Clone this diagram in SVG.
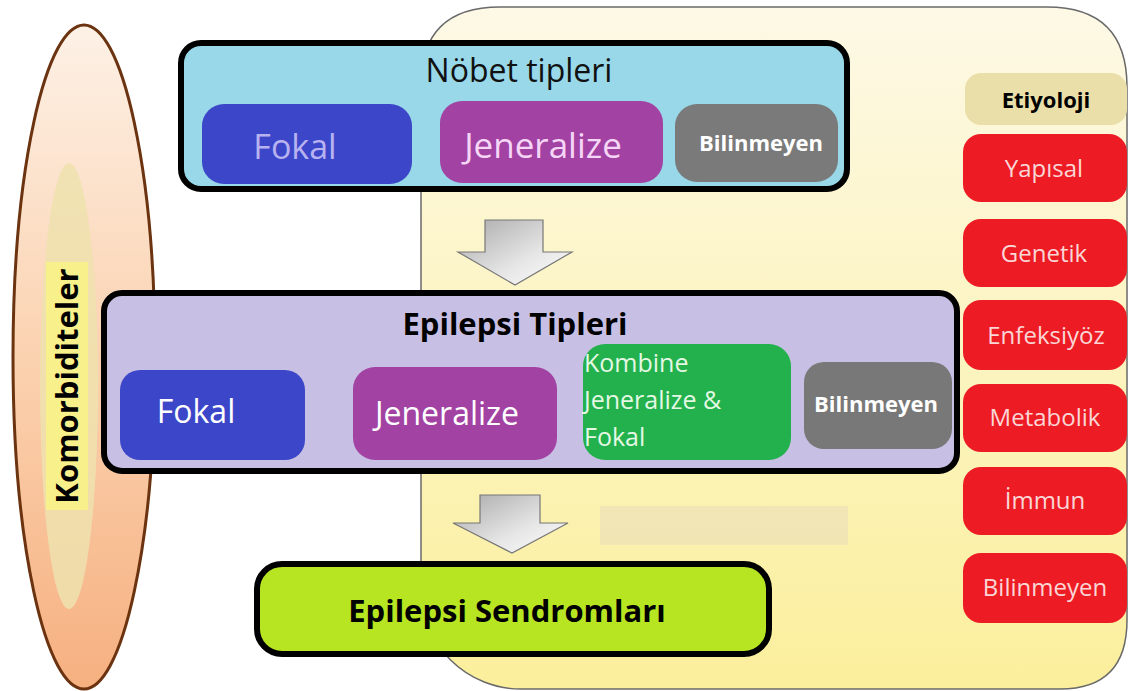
<svg xmlns="http://www.w3.org/2000/svg" width="1134" height="691" viewBox="0 0 1134 691">
<defs>
<linearGradient id="panelG" x1="0" y1="0" x2="0" y2="1">
<stop offset="0" stop-color="#fdf9e6"/><stop offset="1" stop-color="#fbef9c"/>
</linearGradient>
<linearGradient id="ellG" x1="0" y1="0" x2="0" y2="1">
<stop offset="0" stop-color="#fdf1e6"/><stop offset="0.5" stop-color="#fbd2b0"/><stop offset="1" stop-color="#f6b080"/>
</linearGradient>
<linearGradient id="arrG" x1="0" y1="0" x2="1" y2="1">
<stop offset="0" stop-color="#a8a8a8"/><stop offset="0.6" stop-color="#e6e6e6"/><stop offset="1" stop-color="#ffffff"/>
</linearGradient>
<style>
.t{font-family:"Open Sans","Noto Sans","Liberation Sans",sans-serif;text-anchor:middle}
.b{font-weight:bold}
.frame{stroke:#000;stroke-width:6}
.red{fill:#ed1c24}
.redt{fill:#fbd6d6;font-size:24px}
.arr{fill:url(#arrG);stroke:#777;stroke-width:1.2}
</style>
</defs>
<rect width="1134" height="691" fill="#ffffff"/>
<g id="etiology-panel">
<path d="M421,589 L421,85 Q421,7 500,7 L1047,7 Q1127,7 1127,87 L1127,620 Q1127,689 1060,689 L521,689 A100,100 0 0 1 421,589 Z" fill="url(#panelG)" stroke="#6a6a6a" stroke-width="1.5"/>
<rect x="600" y="506" width="248" height="39" fill="#efe2b6" opacity="0.8"/>
</g>
<g id="komorbiditeler">
<ellipse cx="84" cy="357" rx="71" ry="332" fill="url(#ellG)" stroke="#6b3310" stroke-width="3"/>
<ellipse cx="69" cy="386" rx="29" ry="223" fill="#efe2ae" opacity="0.85"/>
<rect x="46" y="262" width="42" height="248" fill="#f8f08a"/>
<text class="t b" transform="translate(78,386) rotate(-90)" font-size="31" fill="#000">Komorbiditeler</text>
</g>
<g id="connectors">
<path class="arr" d="M485,220 L543,220 L543,252 L572,252 L515,285 L458,252 L485,252 Z"/>
<path class="arr" d="M480,495 L540,495 L540,523 L568,523 L512,553 L453,523 L480,523 Z"/>
</g>
<g id="nobet-tipleri">
<rect class="frame" x="181" y="43" width="666" height="146" rx="20" fill="#98d8e8"/>
<text class="t" x="519" y="82" font-size="32" fill="#111">Nöbet tipleri</text>
</g>
<g id="nobet-fokal">
<rect x="202" y="104" width="210" height="80" rx="22" fill="#3c46c8"/>
<text class="t" x="295" y="159" font-size="34" fill="#b8b2f0">Fokal</text>
</g>
<g id="nobet-jeneralize">
<rect x="440" y="101" width="223" height="82" rx="22" fill="#a243a3"/>
<text class="t" x="543" y="158" font-size="35" fill="#f6d6f6">Jeneralize</text>
</g>
<g id="nobet-bilinmeyen">
<rect x="675" y="104" width="163" height="78" rx="22" fill="#7a7a7a"/>
<text class="t b" x="761" y="151" font-size="22" fill="#fff">Bilinmeyen</text>
</g>
<g id="epilepsi-tipleri">
<rect class="frame" x="104" y="293" width="853" height="178" rx="18" fill="#c8c0e4"/>
<text class="t b" x="515" y="335" font-size="31" fill="#000">Epilepsi Tipleri</text>
</g>
<g id="ep-fokal">
<rect x="120" y="370" width="185" height="90" rx="20" fill="#3c46c8"/>
<text class="t" x="196" y="423" font-size="32" fill="#fff">Fokal</text>
</g>
<g id="ep-jeneralize">
<rect x="353" y="367" width="204" height="93" rx="22" fill="#a243a3"/>
<text class="t" x="447" y="425" font-size="32" fill="#fff">Jeneralize</text>
</g>
<g id="ep-kombine">
<rect x="583" y="344" width="208" height="116" rx="22" fill="#22b14c"/>
<text font-family="Open Sans, Noto Sans, sans-serif" font-size="25" fill="#e4f8e4"><tspan x="584" y="372">Kombine</tspan><tspan x="584" y="409">Jeneralize &amp;</tspan><tspan x="584" y="446">Fokal</tspan></text>
</g>
<g id="ep-bilinmeyen">
<rect x="804" y="362" width="148" height="87" rx="20" fill="#787878"/>
<text class="t b" x="876" y="412" font-size="22" fill="#fff">Bilinmeyen</text>
</g>
<g id="epilepsi-sendromlari">
<rect class="frame" x="257" y="564" width="512" height="90" rx="25" fill="#b7e521"/>
<text class="t b" x="507" y="622" font-size="31" fill="#000">Epilepsi Sendromları</text>
</g>
<g id="etiyoloji">
<rect x="965" y="73" width="162" height="52" rx="16" fill="#ebdfa9"/>
<text class="t b" x="1046" y="108" font-size="22" fill="#000">Etiyoloji</text>
</g>
<g id="yapisal"><rect class="red" x="963" y="134" width="164" height="68" rx="18"/><text class="t redt" x="1044" y="177">Yapısal</text></g>
<g id="genetik"><rect class="red" x="963" y="219" width="164" height="68" rx="18"/><text class="t redt" x="1044" y="262">Genetik</text></g>
<g id="enfeksiyoz"><rect class="red" x="963" y="300" width="164" height="70" rx="18"/><text class="t redt" x="1046" y="344">Enfeksiyöz</text></g>
<g id="metabolik"><rect class="red" x="963" y="384" width="164" height="68" rx="18"/><text class="t redt" x="1045" y="426">Metabolik</text></g>
<g id="immun"><rect class="red" x="963" y="467" width="164" height="68" rx="18"/><text class="t redt" x="1045" y="509">İmmun</text></g>
<g id="bilinmeyen-et"><rect class="red" x="963" y="553" width="164" height="70" rx="18"/><text class="t redt" x="1045" y="596">Bilinmeyen</text></g>
</svg>
